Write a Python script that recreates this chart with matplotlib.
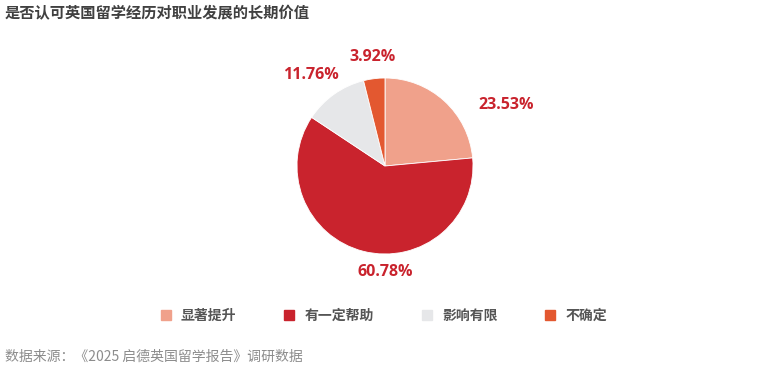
import numpy as np
import matplotlib
matplotlib.use("Agg")
import matplotlib.pyplot as plt
from matplotlib.lines import Line2D

plt.rcParams["font.family"] = ["Noto Sans CJK SC", "DejaVu Sans"]

# data
categories = ["显著提升", "有一定帮助", "影响有限", "不确定"]
shares = [23.53, 60.78, 11.76, 3.92]
pct_labels = ["23.53%", "60.78%", "11.76%", "3.92%"]
colors = ["#F0A18B", "#C9232D", "#E6E7E9", "#E35830"]

title = "是否认可英国留学经历对职业发展的长期价值"
source = "数据来源：《2025 启德英国留学报告》调研数据"

W, H = 769, 370
fig = plt.figure(figsize=(W / 100, H / 100), dpi=100)

# pie axes: centre ~(385,166) px, radius ~88 px
cx, cy, r = 385, 166, 88
ax = fig.add_axes([(cx - r) / W, 1 - (cy + r) / H, 2 * r / W, 2 * r / H])
wedges, _ = ax.pie(shares, colors=colors, startangle=90, counterclock=False,
                   radius=1.0, wedgeprops=dict(linewidth=0.6, edgecolor="white"))
ax.set_xlim(-1, 1)
ax.set_ylim(-1, 1)
ax.set_aspect("auto")
ax.axis("off")

# label positions (data units of the pie axes), placed by hand like the original
label_pos = [(1.38, 0.69), (0.0, -1.20), (-0.84, 1.03), (-0.14, 1.24)]
for txt, (lx, ly) in zip(pct_labels, label_pos):
    ax.text(lx, ly, txt, ha="center", va="center", fontsize=11.5,
            fontweight="bold", color="#C9232D", family="Open Sans",
            clip_on=False)

fig.text(5 / W, 1 - 13 / H, title, ha="left", va="center", fontsize=11,
         fontweight="bold", color="#404040")

handles = [Line2D([], [], marker="s", ls="none", markersize=7,
                  markerfacecolor=c, markeredgecolor=c) for c in colors]
fig.legend(handles, categories, loc="center", bbox_to_anchor=(383 / W, 1 - 316 / H),
           ncol=4, frameon=False, handletextpad=0.6,
           columnspacing=3.3, handlelength=1.0,
           prop=dict(weight="bold", size=10))
for t in fig.legends[0].get_texts():
    t.set_color("#555555")

fig.text(5 / W, 1 - 357 / H, source, ha="left", va="center", fontsize=10,
         style="italic", color="#8C8C8C")

fig.savefig("out.png", dpi=100)
